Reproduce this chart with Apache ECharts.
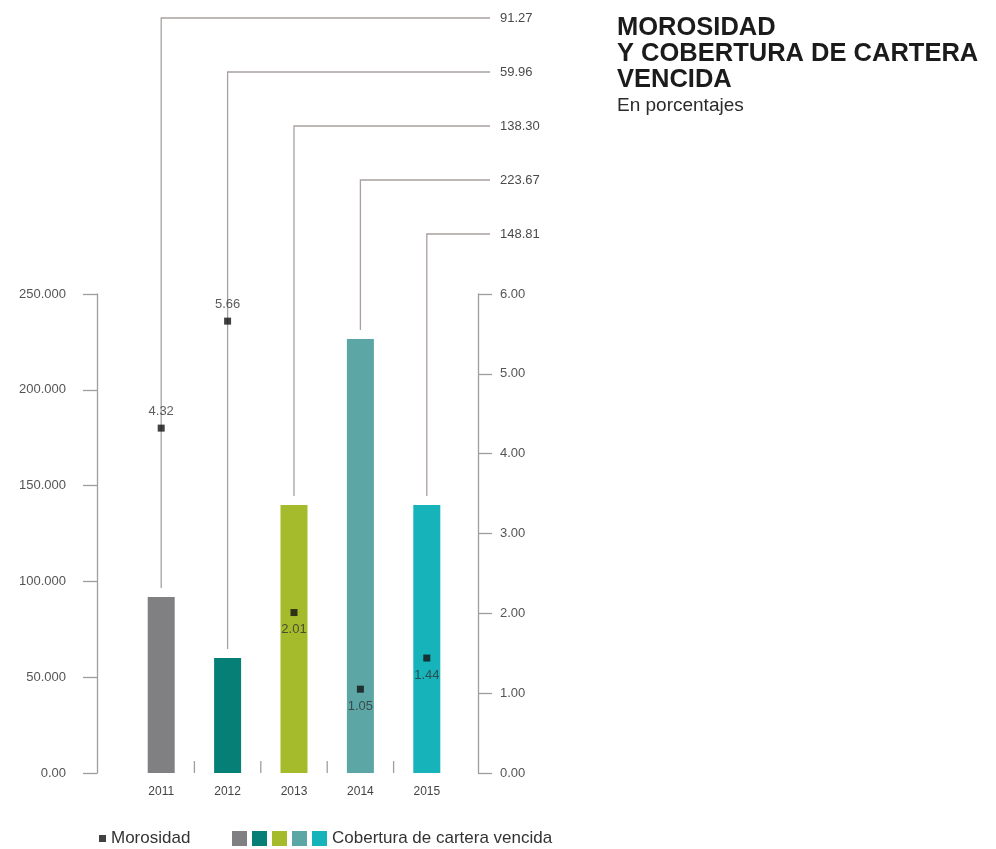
<!DOCTYPE html>
<html>
<head>
<meta charset="utf-8">
<script src="https://cdn.jsdelivr.net/npm/echarts@6/dist/echarts.min.js"></script>
<style>
  html, body { margin: 0; padding: 0; background: #fff; }
  #chart { width: 996px; height: 849px; }
</style>
</head>
<body>
<div id="chart"></div>
<script>
var years = ['2011', '2012', '2013', '2014', '2015']
// cobertura de cartera vencida: bar heights as drawn, and the printed values
var coverageBars = [91.9, 60.0, 139.9, 226.5, 139.9]
var coverageLabels = ['91.27', '59.96', '138.30', '223.67', '148.81']
// morosidad (right axis)
var morosidad = [4.32, 5.66, 2.01, 1.05, 1.44]
var barColors = ['#808083', '#067f77', '#a6bb2c', '#5da6a6', '#17b3bb']
var leftTicks = ['0.00', '50.000', '100.000', '150.000', '200.000', '250.000']

var font = '"Liberation Sans", Arial, sans-serif'
var axisGray = '#a39d9a'
var chart = echarts.init(document.getElementById('chart'))

chart.setOption({
  animation: false,
  textStyle: { fontFamily: font },
  title: {
    text: 'MOROSIDAD\nY COBERTURA DE CARTERA\nVENCIDA',
    subtext: 'En porcentajes',
    left: 612,
    top: 10,
    itemGap: 3,
    textStyle: { fontFamily: font, fontSize: 25.5, fontWeight: 'bold', lineHeight: 26, color: '#1b1b1b' },
    subtextStyle: { fontFamily: font, fontSize: 19, color: '#2b2b2b' }
  },
  legend: [{
    left: 94,
    top: 825,
    icon: 'rect',
    itemWidth: 7,
    itemHeight: 7,
    data: ['Morosidad'],
    textStyle: { fontFamily: font, fontSize: 17, color: '#333' }
  }, {
    left: 227,
    top: 825,
    icon: 'rect',
    itemWidth: 15,
    itemHeight: 15,
    data: ['Cobertura de cartera vencida'],
    formatter: function (name) {
      return '{c1|}{s|}{c2|}{s|}{c3|}{s|}{c4|}{s|}' + name
    },
    textStyle: {
      fontFamily: font, fontSize: 17, color: '#333',
      rich: {
        s: { width: 5 },
        c1: { width: 15, height: 15, backgroundColor: barColors[1] },
        c2: { width: 15, height: 15, backgroundColor: barColors[2] },
        c3: { width: 15, height: 15, backgroundColor: barColors[3] },
        c4: { width: 15, height: 15, backgroundColor: barColors[4] }
      }
    }
  }],
  grid: { left: 128, right: 536, top: 294, bottom: 76 },
  xAxis: {
    type: 'category',
    data: years,
    axisLine: { show: false },
    axisTick: { show: false },
    axisLabel: { margin: 13, fontSize: 12, color: '#444', fontFamily: font }
  },
  yAxis: [{
    type: 'value',
    min: 0,
    max: 250,
    interval: 50,
    offset: 31,
    position: 'left',
    splitLine: { show: false },
    axisLine: { show: true, lineStyle: { color: axisGray, width: 1.3 } },
    axisTick: { show: true, length: 14, lineStyle: { color: axisGray, width: 1.3 } },
    axisLabel: {
      margin: 31, fontSize: 13, color: '#555', fontFamily: font,
      formatter: function (v) { return leftTicks[Math.round(v / 50)] }
    }
  }, {
    type: 'value',
    min: 0,
    max: 6,
    interval: 1,
    offset: 18,
    position: 'right',
    splitLine: { show: false },
    axisLine: { show: true, lineStyle: { color: axisGray, width: 1.3 } },
    axisTick: { show: true, length: 14, lineStyle: { color: axisGray, width: 1.3 } },
    axisLabel: {
      margin: 22, fontSize: 13, color: '#555', fontFamily: font,
      formatter: function (v) { return v.toFixed(2) }
    }
  }],
  series: [{
    name: 'Cobertura de cartera vencida',
    type: 'bar',
    barWidth: 27,
    itemStyle: { color: barColors[0] },
    data: coverageBars.map(function (v, i) {
      return { value: v, itemStyle: { color: barColors[i] } }
    })
  }, {
    // small separators between categories on the baseline
    type: 'custom',
    silent: true,
    clip: false,
    data: years.slice(1).map(function (y, i) { return [i + 1, 0] }),
    renderItem: function (params, api) {
      var p = api.coord([api.value(0), 0])
      var x = p[0] - api.size([1, 0])[0] / 2
      return {
        type: 'line',
        shape: { x1: x, y1: p[1] - 12, x2: x, y2: p[1] },
        style: { stroke: axisGray, lineWidth: 1.3 }
      }
    }
  }, {
    // leader lines from each bar up to its printed value
    type: 'custom',
    clip: false,
    silent: true,
    data: coverageBars.map(function (v, i) { return [i, v] }),
    renderItem: function (params, api) {
      var i = params.dataIndex
      var base = api.coord([api.value(0), api.value(1)])
      var band = api.size([1, 0])[0]
      var endX = api.coord([years.length - 1, 0])[0] + band / 2 + 30
      var topY = 18 + i * 54
      return {
        type: 'group',
        children: [{
          type: 'polyline',
          shape: { points: [[base[0], base[1] - 9], [base[0], topY], [endX, topY]] },
          style: { stroke: '#a8a19f', lineWidth: 1.3, fill: null }
        }, {
          type: 'text',
          x: endX + 10,
          y: topY,
          style: {
            text: coverageLabels[i],
            fill: '#4a4a4a',
            font: '13px ' + font,
            align: 'left',
            verticalAlign: 'middle'
          }
        }]
      }
    }
  }, {
    name: 'Morosidad',
    type: 'scatter',
    yAxisIndex: 1,
    symbol: 'rect',
    symbolSize: 7,
    z: 5,
    itemStyle: { color: '#111' },
    data: morosidad.map(function (v, i) {
      return {
        value: v,
        label: {
          show: true,
          position: i < 2 ? 'top' : 'bottom',
          distance: 7,
          fontSize: 13,
          color: '#333',
          fontFamily: font,
          formatter: function (p) { return p.value.toFixed(2) }
        }
      }
    })
  }]
})
</script>
</body>
</html>
